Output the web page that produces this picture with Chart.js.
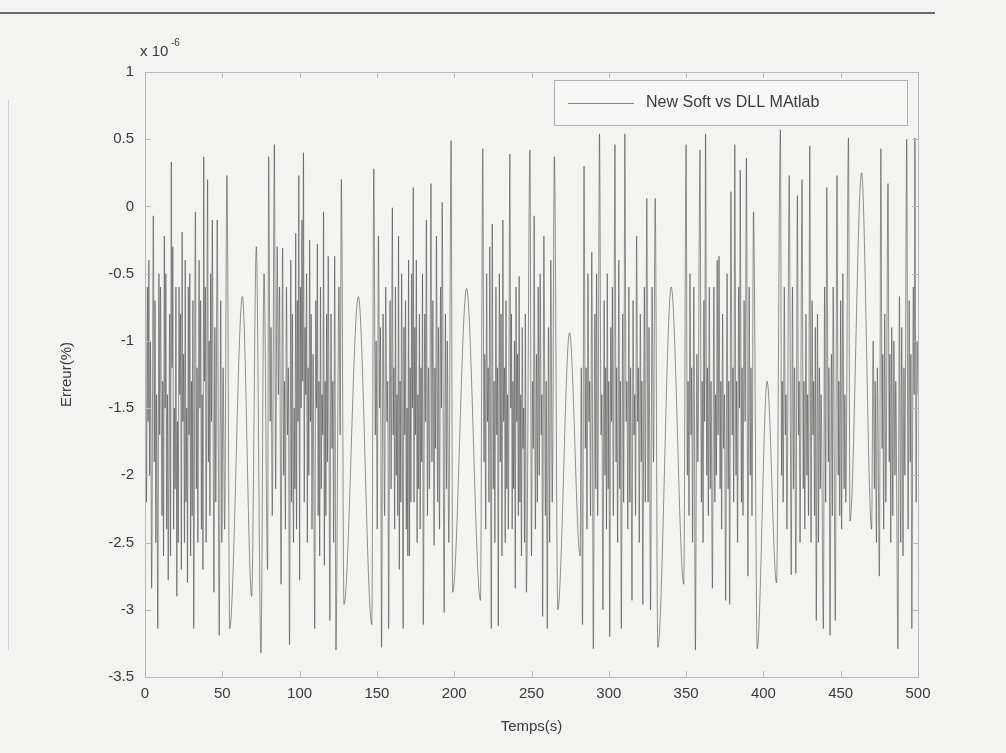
<!DOCTYPE html>
<html>
<head>
<meta charset="utf-8">
<script src="https://cdn.jsdelivr.net/npm/chart.js@4.4.1/dist/chart.umd.min.js"></script>
<style>
  html, body { margin: 0; padding: 0; background: #f3f3f1; }
  #wrap { width: 1006px; height: 753px; position: relative; }
</style>
</head>
<body>
<div id="wrap"><canvas id="courbe"></canvas></div>
<script>
// Erreur (x 1e-6 %) : extrema successifs du signal
const temps = [
  0, 1, 1.5, 2, 2.5, 3, 3.5, 4.3, 5.4, 6,
  6.5, 7, 7.5, 8.3, 9, 9.5, 10, 11, 11.5, 12,
  12.5, 13, 13.5, 14, 14.5, 15, 16, 16.5, 17, 17.5,
  18, 18.5, 19, 19.5, 20, 20.6, 21, 21.5, 22, 22.5,
  23, 23.5, 24, 24.5, 25, 25.5, 26, 26.5, 27, 27.5,
  28, 28.5, 29, 29.5, 30, 30.5, 31, 31.5, 32.6, 33.2,
  33.7, 34.2, 35, 35.5, 36, 36.5, 37, 37.5, 38, 38.5,
  39, 39.5, 40.5, 41, 41.5, 42, 42.5, 43, 43.5, 44.6,
  45.2, 45.8, 46.7, 48, 49, 49.7, 50.5, 51.5, 53, 54.8,
  63, 69, 72, 75, 77, 79.3, 80, 81, 81.5, 82.3,
  83.7, 84.5, 85.5, 86.3, 87, 88, 89, 89.7, 90.2, 90.8,
  91.5, 92.2, 92.7, 93.5, 94.3, 94.8, 95.3, 96, 96.5, 97,
  97.5, 98, 98.5, 99, 99.5, 100, 100.5, 101, 101.5, 102,
  102.5, 103, 103.5, 104, 104.5, 105, 105.5, 106, 106.5, 107,
  107.5, 108, 108.7, 109.8, 110.5, 111, 111.5, 112, 112.5, 113,
  113.5, 114, 114.5, 115, 115.5, 116, 116.5, 117, 117.5, 118,
  118.5, 119.6, 120.3, 121, 121.5, 122, 122.7, 123.5, 125.5, 126.2,
  127, 128.7, 138, 146.7, 148, 149, 149.5, 150.2, 151, 151.8,
  152.3, 153, 154, 155, 155.7, 156.5, 157, 157.6, 158.5, 159.2,
  160, 160.5, 161, 161.5, 162, 162.5, 163, 163.5, 164, 164.5,
  165, 165.5, 166, 167, 167.5, 168, 168.5, 169, 169.5, 170,
  170.5, 171, 171.5, 172, 172.5, 173, 173.5, 174, 174.5, 175,
  175.5, 176, 176.5, 177, 177.5, 178, 178.5, 179, 179.5, 180,
  181, 181.5, 182, 182.7, 183.3, 184, 185, 185.6, 186.2, 187,
  187.5, 188, 188.5, 189.3, 189.8, 190.5, 191.2, 191.7, 192.2, 193.5,
  194.3, 195, 195.5, 196.5, 198, 199, 208, 217, 218.5, 219.3,
  219.8, 220.4, 221, 221.5, 222, 222.5, 223, 224, 224.6, 225.3,
  225.8, 226.3, 227, 227.5, 228, 228.5, 229.2, 229.8, 230.3, 230.9,
  231.5, 232, 232.5, 233, 233.5, 234, 234.5, 235, 236, 236.6,
  237, 237.5, 238, 238.5, 239, 239.5, 240, 240.5, 241, 241.5,
  242, 242.5, 243, 243.5, 244, 244.5, 245, 245.5, 246, 246.7,
  249, 250, 250.7, 251.2, 251.7, 252.5, 253.2, 253.8, 254.3, 255,
  255.6, 256.3, 256.7, 257.2, 258, 259, 259.5, 260.2, 261, 261.7,
  262.5, 263.4, 264.8, 267, 274.6, 281.5, 282.2, 283, 284, 284.8,
  285.3, 285.9, 286.5, 287.2, 287.6, 288.2, 289, 290, 291, 291.6,
  292.1, 292.8, 294, 295, 295.5, 296.2, 297, 297.5, 298, 298.5,
  299, 299.6, 300, 300.6, 301.3, 301.8, 302.3, 302.9, 304, 304.7,
  305.1, 305.7, 306.5, 307.1, 307.5, 308.1, 309, 309.6, 310.4, 311.2,
  311.7, 312.3, 313, 313.6, 314.1, 315, 315.7, 316.3, 316.8, 317.3,
  318, 318.7, 319.1, 319.7, 320.4, 321, 321.4, 322, 323, 323.6,
  324.6, 325.4, 326, 327, 328, 328.9, 330, 331.7, 340.4, 348.5,
  350, 350.8, 351.3, 351.9, 352.5, 353.2, 353.6, 354.2, 355, 356,
  357, 357.6, 359, 359.9, 360.4, 361, 361.5, 362, 362.6, 363.4,
  363.8, 364.4, 365, 365.6, 366.1, 367, 368, 368.6, 369.1, 369.6,
  370.1, 370.7, 371.3, 372, 372.5, 373, 373.6, 374.3, 374.8, 375.6,
  376.5, 377.2, 377.6, 378.2, 379, 379.8, 380.3, 380.8, 381.5, 382.3,
  382.7, 383.3, 384, 384.5, 385, 385.8, 386.2, 386.8, 387.5, 388.2,
  389, 390, 390.8, 391.5, 392, 392.6, 393.6, 396, 402.4, 408.5,
  411, 411.8, 412.2, 412.8, 413.5, 414.2, 414.6, 415.2, 416.7, 418,
  418.8, 419.5, 420.1, 421, 422, 422.7, 423.1, 423.7, 425, 425.8,
  426.2, 426.8, 427.5, 428.2, 428.6, 429.2, 430, 430.8, 431.5, 432.1,
  432.5, 433.1, 433.6, 434.2, 435, 435.6, 436.2, 436.8, 437.3, 438.8,
  439.6, 440.3, 441, 442, 442.4, 443.1, 444, 444.6, 445.1, 446.5,
  447.6, 448.4, 448.8, 449.4, 450, 450.6, 451.4, 452.2, 452.7, 453.3,
  455, 456, 463.5, 470, 471, 471.8, 472.3, 473.1, 473.7, 475,
  476, 476.8, 477.2, 477.8, 478.5, 479.2, 480.6, 481.4, 481.8, 482.4,
  483, 483.7, 484.4, 485.1, 485.6, 487, 488, 488.8, 489.5, 490.3,
  490.9, 491.5, 492.7, 493.6, 494.3, 495, 495.4, 496, 497, 497.5,
  498, 498.8, 499.4, 500
];
const erreur = [
  0.31, -2.2, -0.6, -1.6, -0.4, -2.0, -1.0, -2.84, -0.07, -1.9,
  -0.7, -2.5, -1.4, -3.14, -0.5, -1.7, -0.6, -2.3, -1.3, -2.6,
  -0.22, -1.5, -0.5, -2.4, -1.4, -2.78, -0.8, -2.6, 0.33, -1.2,
  -0.3, -2.4, -1.5, -2.1, -0.6, -2.9, -1.6, -2.5, -0.6, -1.4,
  -0.8, -2.7, -0.19, -1.6, -1.1, -2.5, -0.4, -2.2, -1.5, -2.8,
  -0.6, -1.7, -0.5, -2.6, -1.3, -2.3, -0.7, -3.14, -0.04, -2.1,
  -1.2, -2.5, -0.4, -1.5, -0.7, -2.4, -1.4, -2.7, 0.37, -1.3,
  -0.6, -2.5, 0.2, -1.9, -1.0, -2.3, -0.5, -1.6, -0.1, -2.87,
  -0.9, -2.2, -0.1, -3.19, -0.7, -2.5, -1.2, -2.4, 0.23, -3.14,
  -0.67, -2.9, -0.3, -3.32, -0.5, -2.7, 0.37, -1.6, -0.9, -2.3,
  0.46, -2.1, -0.3, -1.4, -0.6, -2.81, -0.31, -2.0, -1.3, -2.4,
  -0.6, -1.7, -1.2, -3.26, -0.4, -2.2, -0.8, -2.5, -1.5, -2.1,
  -0.2, -2.4, -0.7, -1.6, 0.23, -2.78, -0.6, -1.5, -0.1, -1.3,
  0.4, -2.2, -0.9, -1.4, -0.5, -2.5, -1.2, -2.0, -0.25, -1.6,
  -0.8, -2.4, -1.1, -3.14, -0.7, -1.5, -0.28, -2.3, -1.3, -2.6,
  -0.6, -2.1, -1.4, -1.7, -0.04, -2.67, -1.3, -2.3, -0.8, -1.9,
  -0.37, -3.08, -0.8, -1.8, -1.3, -2.5, -0.37, -3.3, -0.6, -1.7,
  0.2, -2.96, -0.67, -3.11, 0.28, -1.7, -1.0, -2.4, -0.22, -1.5,
  -0.9, -3.28, -0.8, -2.3, -0.6, -1.6, -1.3, -3.14, -0.7, -2.1,
  -0.01, -1.7, -1.2, -2.4, -0.6, -2.0, -1.4, -2.3, -0.22, -2.7,
  -1.3, -2.2, -0.5, -3.14, -0.9, -1.7, -0.7, -2.4, -1.5, -2.6,
  -0.4, -2.6, -1.2, -2.2, -0.5, -1.5, 0.14, -2.2, -0.9, -1.7,
  -0.4, -2.5, -1.4, -2.1, -0.8, -2.4, -1.2, -1.9, -0.5, -3.11,
  -0.8, -1.6, -0.1, -2.3, -1.2, -2.1, 0.17, -1.9, -0.7, -2.52,
  -1.2, -1.8, -0.22, -2.2, -0.9, -2.4, -0.6, -1.5, 0.03, -3.02,
  -0.8, -2.1, -1.0, -2.5, 0.49, -2.87, -0.61, -2.93, 0.43, -1.9,
  -1.1, -2.4, -0.5, -1.6, -1.2, -2.2, -0.3, -3.14, -0.13, -2.1,
  -1.3, -2.5, -0.6, -1.7, -1.2, -3.12, -0.5, -1.9, -0.8, -2.6,
  -0.1, -1.6, -1.2, -2.5, -0.7, -2.1, -1.4, -2.4, 0.39, -1.5,
  -0.8, -2.4, -1.3, -2.1, -1.0, -2.84, -0.6, -1.6, -1.1, -2.3,
  -0.52, -2.2, -1.4, -2.6, -0.9, -1.8, -1.5, -2.5, -0.8, -2.87,
  0.42, -2.6, -1.3, -1.8, -0.07, -2.4, -1.1, -2.2, -0.6, -2.0,
  -0.5, -1.7, -1.4, -3.05, -0.22, -2.3, -1.3, -3.14, -0.9, -2.5,
  -0.4, -2.2, 0.37, -3.0, -0.94, -2.6, -1.2, -3.11, 0.3, -1.8,
  -1.2, -2.4, -0.5, -1.6, -1.3, -2.3, -0.34, -3.29, -0.8, -2.1,
  -0.5, -2.3, 0.54, -1.7, -1.4, -3.0, -0.7, -2.0, -1.2, -2.4,
  -0.5, -2.1, -1.3, -3.2, -0.9, -1.6, -0.6, -2.3, 0.46, -1.9,
  -1.2, -2.5, -0.4, -2.1, -1.3, -3.14, -0.8, -2.2, 0.54, -1.6,
  -1.3, -2.4, -0.6, -2.2, -1.2, -2.93, -0.7, -1.7, -1.4, -2.3,
  -0.22, -1.6, -1.2, -2.5, -0.8, -1.9, -1.3, -2.96, -0.6, -2.2,
  0.06, -2.2, -0.9, -3.0, -0.6, -1.9, 0.06, -3.28, -0.6, -2.81,
  0.46, -2.0, -1.3, -2.3, -0.5, -1.7, -1.2, -2.5, -0.6, -3.3,
  -1.1, -1.9, 0.42, -2.2, -1.3, -2.5, -0.7, -1.6, 0.54, -2.0,
  -1.2, -2.3, -0.6, -2.1, -1.3, -2.84, -0.6, -2.2, -1.4, -2.0,
  -0.4, -1.7, -0.37, -2.1, -1.3, -2.4, -0.8, -1.8, -1.4, -2.93,
  -0.5, -2.1, -1.3, -2.96, 0.11, -1.7, -1.2, -2.2, 0.46, -2.0,
  -1.3, -2.5, -0.6, -1.5, 0.27, -2.2, -1.2, -2.3, -0.7, -1.6,
  0.36, -2.75, -0.6, -2.0, -1.2, -2.3, -0.04, -3.29, -1.3, -2.8,
  0.57, -2.0, -1.3, -2.2, -0.6, -1.7, -1.4, -2.4, 0.23, -2.74,
  -0.6, -2.1, -1.2, -2.73, 0.08, -1.7, -1.3, -2.5, 0.2, -2.1,
  -1.3, -2.4, -0.8, -2.0, -1.4, -2.3, 0.45, -2.5, -0.7, -1.7,
  -1.3, -2.3, -0.9, -3.08, -0.8, -2.5, -1.2, -2.1, -1.4, -3.14,
  -0.6, -2.2, 0.14, -1.9, -1.2, -3.19, -1.1, -2.3, -0.6, -3.08,
  0.23, -2.0, -1.3, -2.3, -0.7, -2.4, -0.5, -2.1, -1.4, -2.2,
  0.51, -2.34, 0.25, -2.4, -1.0, -2.1, -1.3, -2.5, -1.2, -2.75,
  0.43, -1.8, -1.1, -2.4, -0.8, -2.2, 0.17, -1.9, -1.1, -2.5,
  -0.9, -2.3, -1.0, -2.0, -1.3, -3.29, -0.67, -2.5, -0.9, -2.6,
  -1.2, -2.0, 0.5, -2.4, -0.7, -1.9, -1.1, -3.14, -0.6, -1.4,
  0.51, -2.2, -1.0, -1.4
];
const xTicks = [0, 50, 100, 150, 200, 250, 300, 350, 400, 450, 500];
const yTicks = [1, 0.5, 0, -0.5, -1, -1.5, -2, -2.5, -3, -3.5];
const serieLabel = 'New Soft vs DLL MAtlab';
const xTitre = 'Temps(s)';
const yTitre = 'Erreur(%)';

const police = "'Liberation Sans', Arial, sans-serif";
const gris = '#8a8a8a';
const texte = '#3a3a3a';

// fond scanné + trait du haut
const fond = {
  id: 'fond',
  beforeDraw(chart) {
    const { ctx, width, height } = chart;
    ctx.save();
    ctx.fillStyle = '#f3f3f1';
    ctx.fillRect(0, 0, width, height);
    ctx.strokeStyle = '#6a6a6a';
    ctx.lineWidth = 2;
    ctx.beginPath();
    ctx.moveTo(0, 13); ctx.lineTo(935, 13);
    ctx.stroke();
    ctx.strokeStyle = '#cfcfcf';
    ctx.lineWidth = 1;
    ctx.beginPath();
    ctx.moveTo(8.5, 100); ctx.lineTo(8.5, 650);
    ctx.stroke();
    ctx.restore();
  }
};

// cadre façon MATLAB, graduations intérieures, exposant, légende
const cadre = {
  id: 'cadre',
  afterDraw(chart) {
    const { ctx, chartArea: a, scales } = chart;
    ctx.save();
    ctx.strokeStyle = '#b8b8b8';
    ctx.lineWidth = 1;
    ctx.strokeRect(a.left + 0.5, a.top + 0.5, a.right - a.left, a.bottom - a.top);

    ctx.beginPath();
    scales.x.ticks.forEach(t => {
      const px = Math.round(scales.x.getPixelForValue(t.value)) + 0.5;
      ctx.moveTo(px, a.bottom); ctx.lineTo(px, a.bottom - 6);
      ctx.moveTo(px, a.top); ctx.lineTo(px, a.top + 6);
    });
    scales.y.ticks.forEach(t => {
      const py = Math.round(scales.y.getPixelForValue(t.value)) + 0.5;
      ctx.moveTo(a.left, py); ctx.lineTo(a.left + 6, py);
      ctx.moveTo(a.right, py); ctx.lineTo(a.right - 6, py);
    });
    ctx.stroke();

    // x 10^-6
    ctx.fillStyle = texte;
    ctx.textBaseline = 'alphabetic';
    ctx.textAlign = 'left';
    ctx.font = `15px ${police}`;
    ctx.fillText('x 10', 140, 56);
    ctx.font = `10px ${police}`;
    ctx.fillText('-6', 171, 46);

    // légende
    const lx = 554, ly = 80, lw = 353, lh = 45;
    ctx.fillStyle = '#f7f7f6';
    ctx.fillRect(lx, ly, lw, lh);
    ctx.strokeStyle = '#b0b0b0';
    ctx.strokeRect(lx + 0.5, ly + 0.5, lw, lh);
    ctx.strokeStyle = gris;
    ctx.beginPath();
    ctx.moveTo(568, 103.5); ctx.lineTo(634, 103.5);
    ctx.stroke();
    ctx.fillStyle = texte;
    ctx.font = `16px ${police}`;
    ctx.textBaseline = 'middle';
    ctx.fillText(chart.data.datasets[0].label, 646, 103);
    ctx.restore();
  }
};

new Chart(document.getElementById('courbe'), {
  type: 'line',
  data: {
    datasets: [{
      label: serieLabel,
      data: temps.map((t, i) => ({ x: t, y: erreur[i] })),
      borderColor: 'rgba(60,60,60,0.55)',
      borderWidth: 1,
      pointRadius: 0,
      cubicInterpolationMode: 'monotone',
      fill: false
    }]
  },
  options: {
    responsive: true,
    maintainAspectRatio: false,
    animation: false,
    events: [],
    layout: { padding: { left: 0, top: 72, right: 88, bottom: 0 } },
    plugins: { legend: { display: false }, tooltip: { enabled: false } },
    scales: {
      x: {
        type: 'linear', min: 0, max: 500,
        afterBuildTicks: s => { s.ticks = xTicks.map(v => ({ value: v })); },
        afterFit: s => { s.height = 76; },
        grid: { display: false, drawTicks: false },
        border: { display: false },
        ticks: { color: texte, font: { family: police, size: 15 }, padding: 8, maxRotation: 0 },
        title: { display: true, text: xTitre, color: texte, font: { family: police, size: 15 }, padding: { top: 17, bottom: 17 } }
      },
      y: {
        type: 'linear', min: -3.5, max: 1,
        afterBuildTicks: s => { s.ticks = yTicks.map(v => ({ value: v })); },
        afterFit: s => { s.width = 145; },
        grid: { display: false, drawTicks: false },
        border: { display: false },
        ticks: { color: texte, font: { family: police, size: 15 }, padding: 11, callback: v => String(v) },
        title: { display: true, text: yTitre, color: texte, font: { family: police, size: 15 }, padding: { top: 58, bottom: 58 } }
      }
    }
  },
  plugins: [fond, cadre]
});
</script>
</body>
</html>
